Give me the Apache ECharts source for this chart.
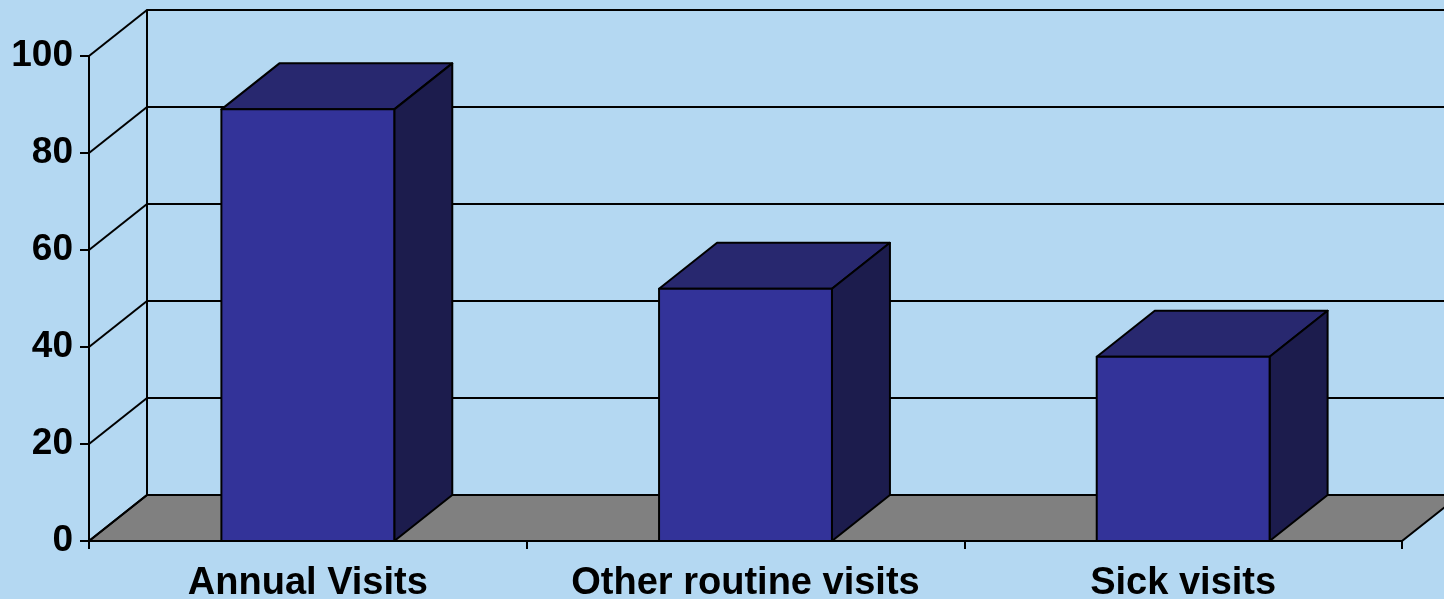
<!DOCTYPE html>
<html>
<head>
<meta charset="utf-8">
<script src="https://cdn.jsdelivr.net/npm/echarts@6/dist/echarts.min.js"></script>
<style>
  html, body { margin: 0; padding: 0; background: #b4d8f2; }
  #main { width: 1444px; height: 599px; }
</style>
</head>
<body>
<div id="main"></div>
<script>
// data
var categories = ['Annual Visits', 'Other routine visits', 'Sick visits'];
var visits = [89, 52, 38];
var yTicks = [0, 20, 40, 60, 80, 100];

// 3d look: how far the back wall sits from the front plane (px)
var DEPTH = [58, -46];
var FONT = '"Liberation Sans", Arial, sans-serif';
var LW = 2;

var chart = echarts.init(document.getElementById('main'), null, { renderer: 'canvas' });

function floorItem(params, api) {
  var half = api.size([1, 0])[0] / 2;
  var a = api.coord([0, 0]);
  var b = api.coord([categories.length - 1, 0]);
  var x0 = a[0] - half, x1 = b[0] + half, y = a[1];
  return {
    type: 'polygon',
    shape: { points: [[x0, y], [x1, y], [x1 + DEPTH[0], y + DEPTH[1]], [x0 + DEPTH[0], y + DEPTH[1]]] },
    style: { fill: '#808080', stroke: '#000', lineWidth: LW }
  };
}

function diagItem(params, api) {
  var p = api.coord([api.value(0), api.value(1)]);
  var x = p[0] - api.size([1, 0])[0] / 2;
  return {
    type: 'line',
    shape: { x1: x, y1: p[1], x2: x + DEPTH[0], y2: p[1] + DEPTH[1] },
    style: { stroke: '#000', lineWidth: LW }
  };
}

function barItem(params, api) {
  var p = api.coord([api.value(0), api.value(1)]);
  var base = api.coord([api.value(0), 0]);
  var w = api.size([1, 0])[0] * 0.395;
  var x0 = p[0] - w / 2, x1 = p[0] + w / 2, top = p[1], bot = base[1];
  var dx = DEPTH[0], dy = DEPTH[1];
  var edge = { stroke: '#000', lineWidth: LW, lineJoin: 'round' };
  return {
    type: 'group',
    children: [
      {
        type: 'polygon',
        shape: { points: [[x0, top], [x1, top], [x1 + dx, top + dy], [x0 + dx, top + dy]] },
        style: Object.assign({ fill: '#28286f' }, edge)
      },
      {
        type: 'polygon',
        shape: { points: [[x1, top], [x1 + dx, top + dy], [x1 + dx, bot + dy], [x1, bot]] },
        style: Object.assign({ fill: '#1c1c4d' }, edge)
      },
      {
        type: 'rect',
        shape: { x: x0, y: top, width: w, height: bot - top },
        style: Object.assign({ fill: '#333399' }, edge)
      }
    ]
  };
}

var option = {
  backgroundColor: '#b4d8f2',
  animation: false,
  grid: [
    { left: 89, top: 56, width: 1313, height: 485, outerBoundsMode: 'none' },
    { left: 147, top: 10, width: 1313, height: 485, outerBoundsMode: 'none' }
  ],
  xAxis: [
    {
      gridIndex: 0,
      type: 'category',
      data: categories,
      axisLine: { lineStyle: { color: '#000', width: LW } },
      axisTick: { show: true, interval: 0, length: 8, lineStyle: { color: '#000', width: LW } },
      axisLabel: { interval: 0, color: '#000', fontSize: 38, fontWeight: 'bold', fontFamily: FONT, margin: 24 },
      splitLine: { show: false }
    },
    { gridIndex: 1, type: 'category', data: categories, show: false }
  ],
  yAxis: [
    {
      gridIndex: 0,
      type: 'value',
      min: 0,
      max: 100,
      interval: 20,
      axisLine: { show: true, lineStyle: { color: '#000', width: LW } },
      axisTick: { show: true, length: 9, lineStyle: { color: '#000', width: LW } },
      axisLabel: { color: '#000', fontSize: 37, fontWeight: 'bold', fontFamily: FONT, margin: 16, padding: [6, 0, 0, 0] },
      splitLine: { show: false }
    },
    {
      gridIndex: 1,
      type: 'value',
      min: 0,
      max: 100,
      interval: 20,
      axisLine: { show: true, lineStyle: { color: '#000', width: LW } },
      axisTick: { show: false },
      axisLabel: { show: false },
      splitLine: { show: true, lineStyle: { color: '#000', width: LW } }
    }
  ],
  series: [
    {
      type: 'custom',
      xAxisIndex: 0,
      yAxisIndex: 0,
      renderItem: floorItem,
      data: [[0, 0]],
      z: 3,
      silent: true
    },
    {
      type: 'custom',
      xAxisIndex: 0,
      yAxisIndex: 0,
      renderItem: diagItem,
      data: yTicks.map(function (v) { return [0, v]; }),
      z: 4,
      silent: true
    },
    {
      name: 'Visits',
      type: 'custom',
      xAxisIndex: 0,
      yAxisIndex: 0,
      renderItem: barItem,
      data: visits.map(function (v, i) { return [i, v]; }),
      z: 5
    }
  ]
};

chart.setOption(option);
</script>
</body>
</html>
